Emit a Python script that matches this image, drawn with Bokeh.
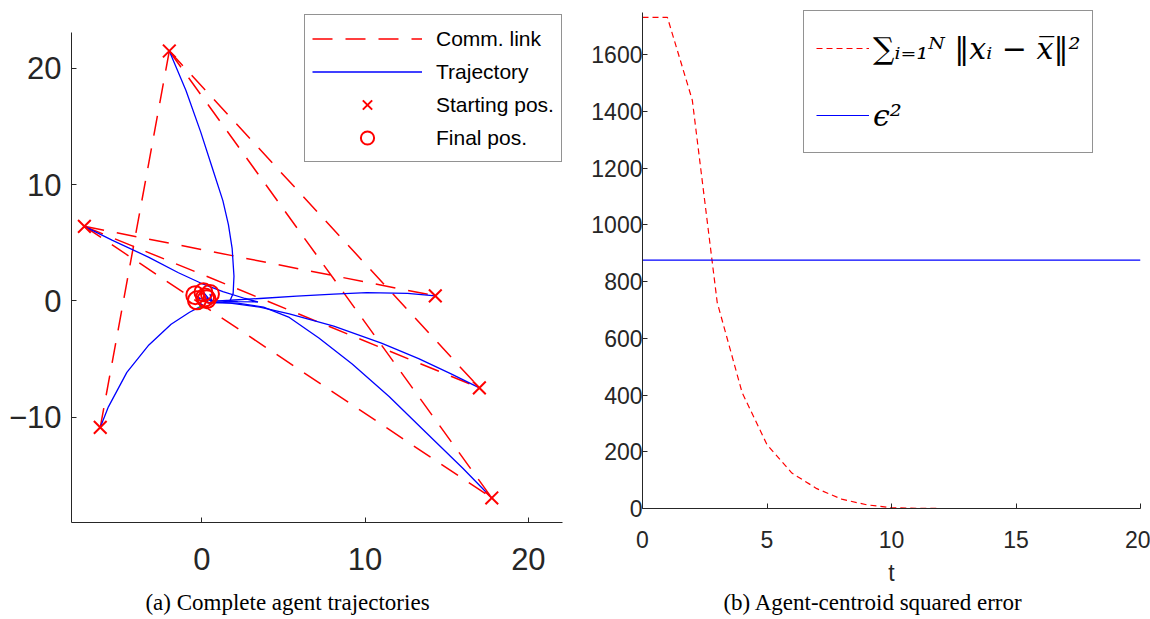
from bokeh.plotting import figure
from bokeh.models import Legend, LegendItem, FixedTicker, Range1d, Div
from bokeh.layouts import row, column
from bokeh.embed import file_html
from bokeh.resources import INLINE

# ---------------- data: left panel (agent trajectories) ----------------
start_x = [-1.99, -7.19, -6.22, 14.30, 17.00, 17.76]
start_y = [21.48, 6.41, -10.87, 0.44, -7.47, -16.93]
final_x = [0.30, -0.40, -0.30, 0.50, 0.10, 0.20]
final_y = [0.15, 0.50, 0.05, 0.60, 0.75, 0.30]
links = [(0, 2), (0, 4), (0, 5), (1, 3), (1, 4), (1, 5)]

traj_a_x = [-1.99, -0.97, -0.07, 0.61, 1.29, 1.63, 1.86, 1.97, 1.92, 1.74, 1.29, 0.38, 0.30]
traj_a_y = [21.48, 18.08, 14.53, 11.58, 8.62, 6.56, 4.49, 2.13, 0.65, 0.06, -0.12, -0.18, 0.15]
traj_b_x = [-7.19, -5.50, -3.24, -1.43, -0.07, 1.29, 2.65, 3.44, 2.20, 0.84, -0.10, -0.40]
traj_b_y = [6.41, 5.23, 3.75, 2.42, 1.54, 0.80, 0.21, -0.09, -0.06, 0.00, 0.20, 0.50]
traj_c_x = [-6.22, -5.72, -4.59, -3.24, -1.88, -0.75, 0.05, -0.30]
traj_c_y = [-10.87, -9.10, -6.14, -3.78, -2.00, -0.97, -0.38, 0.05]
traj_d_x = [14.30, 12.60, 10.10, 8.08, 5.81, 3.55, 1.74, 0.61, 0.50]
traj_d_y = [0.44, 0.65, 0.71, 0.59, 0.41, 0.21, 0.06, -0.03, 0.60]
traj_e_x = [17.00, 15.30, 13.28, 11.00, 8.08, 5.36, 3.55, 1.74, 0.61, 0.10]
traj_e_y = [-7.47, -6.29, -4.96, -3.63, -2.16, -1.12, -0.53, -0.18, -0.12, 0.75]
traj_f_x = [17.76, 16.00, 13.73, 11.47, 9.21, 7.17, 5.36, 3.78, 2.19, 0.84, 0.20]
traj_f_y = [-16.93, -14.40, -11.31, -8.21, -5.41, -3.19, -1.42, -0.53, -0.18, -0.12, 0.30]
centroid_x = [-0.20, 0.30]
centroid_y = [-0.60, -0.48]

x_ticks_a = [0, 10, 20]
y_ticks_a = [-10, 0, 10, 20]

# ---------------- data: right panel (squared error) ----------------
t = list(range(21))
err = [1732, 1732, 1440, 727, 409, 225, 125, 70, 33, 13, 3, 0.5,
       0, 0, 0, 0, 0, 0, 0, 0, 0]
eps2 = 876
x_ticks_b = [0, 5, 10, 15, 20]
y_ticks_b = [0, 200, 400, 600, 800, 1000, 1200, 1400, 1600]

AX = "#262626"


def style_axes(p, fs, standoff_x, standoff_y):
    for ax in (p.xaxis[0], p.yaxis[0]):
        ax.axis_line_color = AX
        ax.axis_line_width = 1
        ax.major_tick_line_color = AX
        ax.major_tick_in = 5
        ax.major_tick_out = 0
        ax.minor_tick_line_color = None
        ax.major_label_text_font = "Liberation Sans"
        ax.major_label_text_font_size = fs
        ax.major_label_text_color = AX
    p.xaxis[0].major_label_standoff = standoff_x
    p.yaxis[0].major_label_standoff = standoff_y
    p.grid.visible = False
    p.outline_line_color = None
    p.background_fill_color = "white"
    p.border_fill_color = "white"


# ---------------- left figure ----------------
p1 = figure(width=575, height=590, output_backend="svg", toolbar_location=None,
            x_range=Range1d(-7.98, 22.09), y_range=Range1d(-19.04, 24.96),
            min_border_left=71, min_border_right=13, min_border_top=10,
            min_border_bottom=68)
style_axes(p1, "31px", 25, 10)
p1.xaxis[0].ticker = FixedTicker(ticks=x_ticks_a)
p1.yaxis[0].ticker = FixedTicker(ticks=y_ticks_a)
p1.yaxis[0].bounds = (-19.04, 23.04)

link_xs = [[start_x[i], start_x[j]] for i, j in links]
link_ys = [[start_y[i], start_y[j]] for i, j in links]
r_links = p1.multi_line(link_xs, link_ys, line_color="red", line_width=1.5,
                        line_dash="20 13")
trajs_x = [traj_a_x, traj_b_x, traj_c_x, traj_d_x, traj_e_x, traj_f_x]
trajs_y = [traj_a_y, traj_b_y, traj_c_y, traj_d_y, traj_e_y, traj_f_y]
r_traj = p1.multi_line(trajs_x, trajs_y, line_color="blue", line_width=1.3)
p1.line(centroid_x, centroid_y, line_color="#00ee00", line_width=2)
r_start = p1.scatter(start_x, start_y, marker="x", size=18, line_color="red",
                     line_width=2)
r_final = p1.scatter(final_x, final_y, marker="circle", size=18, line_color="red",
                     fill_color=None, line_width=2)

leg1 = Legend(items=[LegendItem(label="Comm. link", renderers=[r_links]),
                     LegendItem(label="Trajectory", renderers=[r_traj]),
                     LegendItem(label="Starting pos.", renderers=[r_start]),
                     LegendItem(label="Final pos.", renderers=[r_final])],
              location=(233, 360), orientation="vertical",
              label_text_font="Liberation Sans", label_text_font_size="21px",
              label_text_color="black",
              glyph_width=110, glyph_height=33, label_height=33,
              label_standoff=14, spacing=0, padding=7, margin=0,
              border_line_color=AX, border_line_width=1,
              background_fill_color="white", background_fill_alpha=1)
p1.add_layout(leg1)

cap1 = Div(text="(a) Complete agent trajectories", width=575, height=29, margin=0,
           styles={"font-family": "Liberation Serif", "font-size": "23px",
                   "text-align": "center", "color": "black",
                   "line-height": "26px"})

# ---------------- right figure ----------------
p2 = figure(width=575, height=590, output_backend="svg", toolbar_location=None,
            x_range=Range1d(0, 20), y_range=Range1d(0, 1777.3),
            min_border_left=67, min_border_right=10, min_border_top=4,
            min_border_bottom=82)
style_axes(p2, "23px", 22, 0)
p2.xaxis[0].ticker = FixedTicker(ticks=x_ticks_b)
p2.yaxis[0].ticker = FixedTicker(ticks=y_ticks_b)
p2.yaxis[0].bounds = (0, 1748)
p2.xaxis[0].axis_label = "t"
p2.xaxis[0].axis_label_text_font = "Liberation Sans"
p2.xaxis[0].axis_label_text_font_style = "normal"
p2.xaxis[0].axis_label_text_font_size = "23px"
p2.xaxis[0].axis_label_text_color = AX
p2.xaxis[0].axis_label_standoff = 9

r_err = p2.line(t, err, line_color="red", line_width=1.2, line_dash="6 4")
r_eps = p2.line([t[0], t[-1]], [eps2, eps2], line_color="blue", line_width=1.2)

leg2 = Legend(items=[LegendItem(label="\u2211\u1d62\u208c\u2081\u1d3a \u2016x\u1d62 \u2212 x\u0305\u2016\u00b2",
                                renderers=[r_err]),
                     LegendItem(label="\u03f5\u00b2", renderers=[r_eps])],
              location=(161, 355), orientation="vertical",
              label_text_font="DejaVu Serif", label_text_font_style="italic",
              label_text_font_size="30px", label_text_color="black",
              glyph_width=53, glyph_height=50, label_height=50,
              label_standoff=4, spacing=17, padding=12, margin=0,
              border_line_color=AX, border_line_width=1,
              background_fill_color="white", background_fill_alpha=1)
p2.add_layout(leg2)

cap2 = Div(text="(b) Agent-centroid squared error", width=575, height=29, margin=0,
           styles={"font-family": "Liberation Serif", "font-size": "23px",
                   "text-align": "center", "color": "black",
                   "line-height": "26px", "padding-left": "20px",
                   "box-sizing": "border-box"})

layout = row(column(p1, cap1), column(p2, cap2))
open("out.html", "w").write(file_html(layout, INLINE))
